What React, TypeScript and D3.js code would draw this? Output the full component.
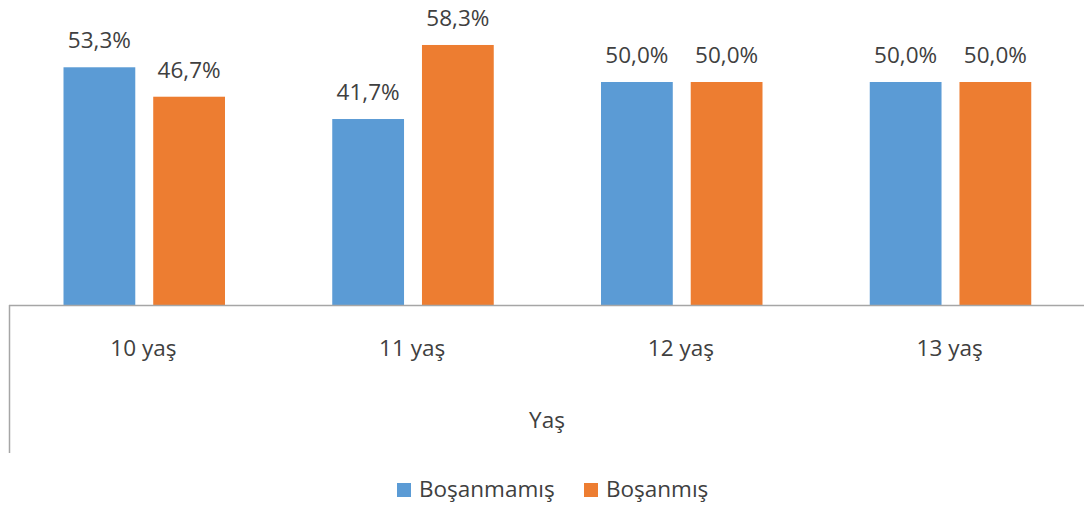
import React from "react";
import * as d3 from "d3";

const categories = ["10 yaş", "11 yaş", "12 yaş", "13 yaş"];
const seriesNames = ["Boşanmamış", "Boşanmış"];
const bosanmamis = [53.3, 41.7, 50.0, 50.0];
const bosanmis = [46.7, 58.3, 50.0, 50.0];
const colors = ["#5B9BD5", "#ED7D31"];
const axisTitle = "Yaş";

const W = 1084;
const H = 509;
const FONT = "'Open Sans', Lato, sans-serif";
const TEXT = "#404040";

export default function App() {
  const left = 9;
  const right = 1084;
  const baseY = 305;
  const x = d3.scaleBand<string>().domain(categories).range([left, right]).paddingInner(0).paddingOuter(0);
  const y = d3.scaleLinear().domain([0, 60]).range([baseY, baseY - 60 * 4.46]);
  const inner = d3.scaleBand<number>().domain([0, 1]).range([54.5, 216]).paddingInner(0.2);
  const series = [bosanmamis, bosanmis];
  const fmt = (v: number) => v.toFixed(1).replace(".", ",") + "%";

  return (
    <div style={{ position: "absolute", left: 0, top: 0 }}>
      <svg width={W} height={H} style={{ display: "block", background: "#fff" }} fontFamily={FONT}>
        {series.map((vals, si) =>
          vals.map((v, ci) => {
            const bx = (x(categories[ci]) ?? 0) + (inner(si) ?? 0);
            const bw = inner.bandwidth();
            return (
              <g key={`${si}-${ci}`}>
                <rect x={bx} y={y(v)} width={bw} height={baseY - y(v)} fill={colors[si]} />
                <text x={bx + bw / 2} y={y(v) - 19} textAnchor="middle" fontSize={22.5} fill={TEXT}>
                  {fmt(v)}
                </text>
              </g>
            );
          })
        )}
        <line x1={left} x2={right} y1={baseY + 0.5} y2={baseY + 0.5} stroke="#A6A6A6" strokeWidth={1.5} />
        <line x1={left + 0.5} x2={left + 0.5} y1={baseY} y2={453} stroke="#A6A6A6" strokeWidth={1.5} />
        {categories.map((c) => (
          <text key={c} x={(x(c) ?? 0) + x.bandwidth() / 2} y={356} textAnchor="middle" fontSize={22.5} fill={TEXT}>
            {c}
          </text>
        ))}
        <text x={547} y={428} textAnchor="middle" fontSize={22.5} fill={TEXT}>
          {axisTitle}
        </text>
        {seriesNames.map((n, i) => {
          const lx = [397, 584][i];
          return (
            <g key={n}>
              <rect x={lx} y={483} width={14} height={14} fill={colors[i]} />
              <text x={lx + 22} y={497} fontSize={22.5} fill={TEXT}>
                {n}
              </text>
            </g>
          );
        })}
      </svg>
    </div>
  );
}
